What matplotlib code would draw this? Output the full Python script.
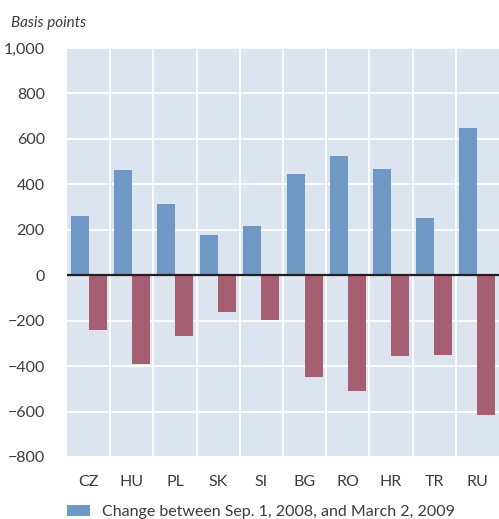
import matplotlib
matplotlib.use('Agg')
import matplotlib.pyplot as plt
from matplotlib.ticker import FuncFormatter, MultipleLocator, FixedLocator
import numpy as np

countries = ['CZ', 'HU', 'PL', 'SK', 'SI', 'BG', 'RO', 'HR', 'TR', 'RU']
change_first = [260, 462, 313, 177, 216, 444, 523, 466, 251, 646]
change_second = [-240, -390, -266, -161, -196, -446, -508, -354, -350, -614]
label_first = 'Change between Sep. 1, 2008, and March 2, 2009'

BLUE = '#6f99c4'
RED = '#a65e72'
BG = '#dbe4ef'
TXT = '#3c3c3c'

plt.rcParams['font.family'] = ['Lato', 'DejaVu Sans']

fig = plt.figure(figsize=(4.99, 5.19), dpi=100)
ax = fig.add_axes([67 / 499, 1 - 457 / 519, 1 - 67 / 499, (457 - 48) / 519])
ax.set_facecolor(BG)

x = np.arange(len(countries))
w = 0.415
b1 = ax.bar(x - w / 2, change_first, w, color=BLUE, zorder=3, label=label_first)
ax.bar(x + w / 2, change_second, w, color=RED, zorder=3)
ax.axhline(0, color='#231f20', lw=1.6, zorder=4)

ax.set_xlim(-0.5, len(countries) - 0.5)
ax.set_ylim(-800, 1000)
ax.yaxis.set_major_locator(MultipleLocator(200))
ax.yaxis.set_major_formatter(FuncFormatter(lambda v, p: '{:,.0f}'.format(v).replace('-', '\u2212')))
ax.set_xticks(x)
ax.set_xticklabels(countries)
ax.xaxis.set_minor_locator(FixedLocator(x[:-1] + 0.5))

ax.grid(axis='y', which='major', color='white', lw=1.3, zorder=1)
ax.grid(axis='x', which='minor', color='white', lw=1.3, zorder=1)
ax.grid(axis='x', which='major', visible=False)
for s in ax.spines.values():
    s.set_visible(False)
ax.tick_params(axis='both', which='both', length=0, labelsize=11.5, colors=TXT)
ax.tick_params(axis='y', pad=16)
ax.tick_params(axis='x', pad=13)

fig.text(11 / 499, 1 - 23 / 519, 'Basis points', style='italic', fontsize=11, color=TXT,
         va='center', ha='left')

fig.legend(handles=[b1], loc='upper left', bbox_to_anchor=(67 / 499, 1 - 505 / 519),
           frameon=False, fontsize=11.5, handlelength=1.45, handleheight=0.65,
           handletextpad=0.75, borderpad=0, borderaxespad=0, labelcolor=TXT)

fig.savefig('out.png', dpi=100)
